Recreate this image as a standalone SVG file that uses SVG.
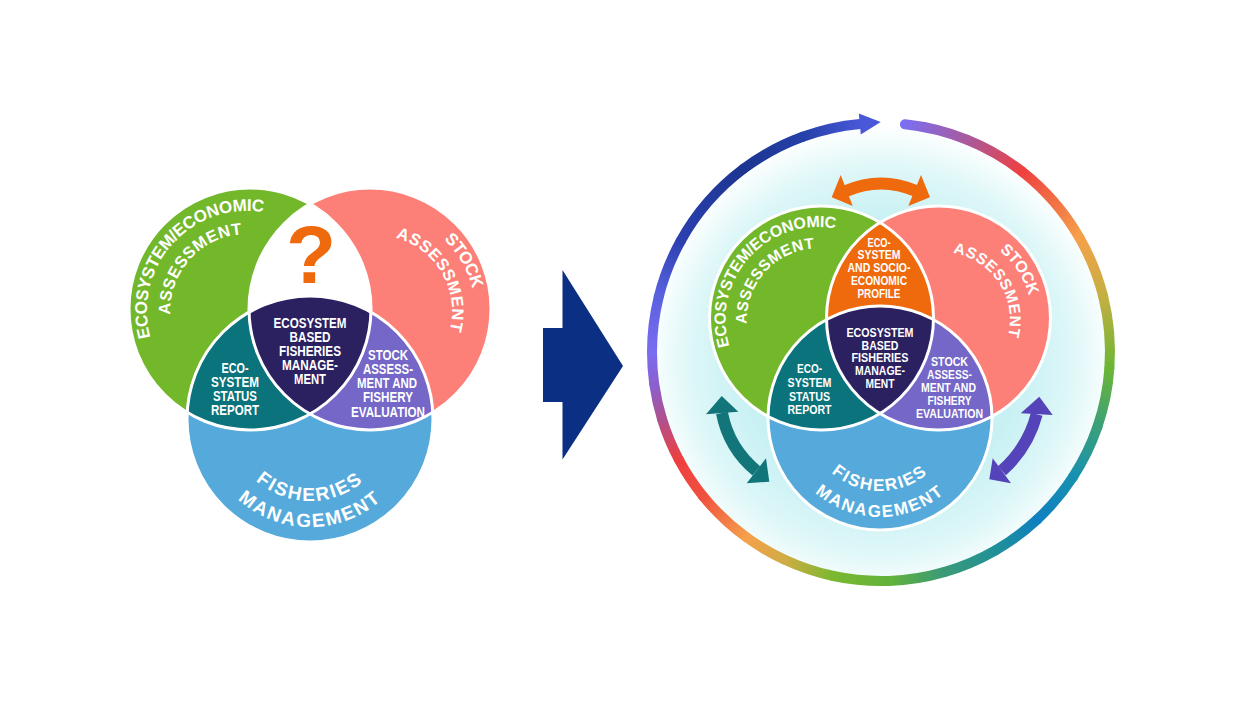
<svg xmlns="http://www.w3.org/2000/svg" width="1250" height="702" viewBox="0 0 1250 702">
<style>
.w{fill:none;stroke:#fff;stroke-width:3}
.t{font-family:'Liberation Sans',Arial,sans-serif;font-weight:700;fill:#fff;text-anchor:middle}
.s1{font-size:14.5px}
.s2{font-size:12.8px}
.c1{font-size:17px;letter-spacing:-0.3px}
.c1b{font-size:16.5px;letter-spacing:0.6px}
.c2{font-size:19px;letter-spacing:2px}
.c3{font-size:16px;letter-spacing:-0.2px}
.c3b{font-size:15.5px;letter-spacing:0.6px}
.c4{font-size:17px;letter-spacing:1.8px}
.seg{fill:none;stroke-width:10;stroke-linecap:round}
.green{fill:#73b72b}.pink{fill:#fd8078}.blue{fill:#55aadb}.teal{fill:#0a737b}.navy{fill:#2b2161}.purple{fill:#7467c7}.orange{fill:#ee6a0c}
</style>
<defs>
<radialGradient id="glow" cx="881" cy="360" r="235" gradientUnits="userSpaceOnUse">
<stop offset="0" stop-color="#bfeef2"/><stop offset="0.6" stop-color="#c9f1f4"/><stop offset="0.82" stop-color="#dff7f8"/><stop offset="0.95" stop-color="#f6fdfd"/><stop offset="1" stop-color="#ffffff"/>
</radialGradient>
<clipPath id="cgL"><circle cx="250" cy="309" r="121"/></clipPath>
<clipPath id="cpL"><circle cx="370" cy="309" r="121"/></clipPath>
<clipPath id="cgR"><circle cx="821.5" cy="318" r="112"/></clipPath>
<clipPath id="cpR"><circle cx="938.5" cy="318" r="112"/></clipPath>
<path id="pG1" d="M173.9 379.2 A100 100 0 0 1 307.2 231.1"/>
<path id="pG2" d="M190.7 363.5 A77 77 0 0 1 293.3 249.5"/>
<path id="pP1" d="M332.7 221.4 A100 100 0 0 1 432.4 393.9"/>
<path id="pP2" d="M342.5 242.2 A77 77 0 0 1 419.2 375.1"/>
<path id="pB1" d="M232.9 447 A82 82 0 0 0 387.1 447"/>
<path id="pB2" d="M208.5 455.9 A108 108 0 0 0 411.5 455.9"/>
<path id="qG1" d="M750.5 383.4 A93 93 0 0 1 874.5 245.7"/>
<path id="qG2" d="M765.9 369.1 A72 72 0 0 1 861.8 262.5"/>
<path id="qP1" d="M899.7 240.5 A90 90 0 0 1 997.4 390.9"/>
<path id="qP2" d="M910.1 260 A68 68 0 0 1 983.9 373.6"/>
<path id="qB1" d="M811.4 443 A73 73 0 0 0 948.6 443"/>
<path id="qB2" d="M787 451.9 A99 99 0 0 0 973 451.9"/>
<linearGradient id="r0" gradientUnits="userSpaceOnUse" x1="904.9" y1="124.3" x2="966.8" y2="139.7"><stop offset="0" stop-color="#7b6ef0"/><stop offset="1" stop-color="#a85a9e"/></linearGradient>
<linearGradient id="r1" gradientUnits="userSpaceOnUse" x1="966.8" y1="139.7" x2="1022" y2="171.5"><stop offset="0" stop-color="#a85a9e"/><stop offset="1" stop-color="#ee4040"/></linearGradient>
<linearGradient id="r2" gradientUnits="userSpaceOnUse" x1="1022" y1="171.5" x2="1079.3" y2="237.5"><stop offset="0" stop-color="#ee4040"/><stop offset="1" stop-color="#f5a04a"/></linearGradient>
<linearGradient id="r3" gradientUnits="userSpaceOnUse" x1="1079.3" y1="237.5" x2="1103.2" y2="296.6"><stop offset="0" stop-color="#f5a04a"/><stop offset="1" stop-color="#c4b042"/></linearGradient>
<linearGradient id="r4" gradientUnits="userSpaceOnUse" x1="1103.2" y1="296.6" x2="1109.4" y2="368"><stop offset="0" stop-color="#c4b042"/><stop offset="1" stop-color="#6cb535"/></linearGradient>
<linearGradient id="r5" gradientUnits="userSpaceOnUse" x1="1109.4" y1="368" x2="1097.5" y2="426.6"><stop offset="0" stop-color="#6cb535"/><stop offset="1" stop-color="#3aa07a"/></linearGradient>
<linearGradient id="r6" gradientUnits="userSpaceOnUse" x1="1097.5" y1="426.6" x2="1073.1" y2="476.7"><stop offset="0" stop-color="#3aa07a"/><stop offset="1" stop-color="#1890b0"/></linearGradient>
<linearGradient id="r7" gradientUnits="userSpaceOnUse" x1="1073.1" y1="476.7" x2="1037.2" y2="519.5"><stop offset="0" stop-color="#1890b0"/><stop offset="1" stop-color="#0f80c0"/></linearGradient>
<linearGradient id="r8" gradientUnits="userSpaceOnUse" x1="1037.2" y1="519.5" x2="995.5" y2="550.3"><stop offset="0" stop-color="#0f80c0"/><stop offset="1" stop-color="#209098"/></linearGradient>
<linearGradient id="r9" gradientUnits="userSpaceOnUse" x1="995.5" y1="550.3" x2="944.1" y2="572.1"><stop offset="0" stop-color="#209098"/><stop offset="1" stop-color="#3a9a78"/></linearGradient>
<linearGradient id="r10" gradientUnits="userSpaceOnUse" x1="944.1" y1="572.1" x2="889" y2="580.9"><stop offset="0" stop-color="#3a9a78"/><stop offset="1" stop-color="#62b23a"/></linearGradient>
<linearGradient id="r11" gradientUnits="userSpaceOnUse" x1="889" y1="580.9" x2="833.4" y2="576"><stop offset="0" stop-color="#62b23a"/><stop offset="1" stop-color="#7ab830"/></linearGradient>
<linearGradient id="r12" gradientUnits="userSpaceOnUse" x1="833.4" y1="576" x2="784.2" y2="559.5"><stop offset="0" stop-color="#7ab830"/><stop offset="1" stop-color="#d0ac45"/></linearGradient>
<linearGradient id="r13" gradientUnits="userSpaceOnUse" x1="784.2" y1="559.5" x2="746.4" y2="537.3"><stop offset="0" stop-color="#d0ac45"/><stop offset="1" stop-color="#f5a04a"/></linearGradient>
<linearGradient id="r14" gradientUnits="userSpaceOnUse" x1="746.4" y1="537.3" x2="703" y2="496.1"><stop offset="0" stop-color="#f5a04a"/><stop offset="1" stop-color="#f05040"/></linearGradient>
<linearGradient id="r15" gradientUnits="userSpaceOnUse" x1="703" y1="496.1" x2="678.8" y2="459.5"><stop offset="0" stop-color="#f05040"/><stop offset="1" stop-color="#ee3f3f"/></linearGradient>
<linearGradient id="r16" gradientUnits="userSpaceOnUse" x1="678.8" y1="459.5" x2="662" y2="419"><stop offset="0" stop-color="#ee3f3f"/><stop offset="1" stop-color="#b0508e"/></linearGradient>
<linearGradient id="r17" gradientUnits="userSpaceOnUse" x1="662" y1="419" x2="654.2" y2="383.9"><stop offset="0" stop-color="#b0508e"/><stop offset="1" stop-color="#8a60d0"/></linearGradient>
<linearGradient id="r18" gradientUnits="userSpaceOnUse" x1="654.2" y1="383.9" x2="652" y2="352"><stop offset="0" stop-color="#8a60d0"/><stop offset="1" stop-color="#7a6cf0"/></linearGradient>
<linearGradient id="r19" gradientUnits="userSpaceOnUse" x1="652" y1="352" x2="658.8" y2="296.6"><stop offset="0" stop-color="#7a6cf0"/><stop offset="1" stop-color="#5a62e0"/></linearGradient>
<linearGradient id="r20" gradientUnits="userSpaceOnUse" x1="658.8" y1="296.6" x2="680.7" y2="241"><stop offset="0" stop-color="#5a62e0"/><stop offset="1" stop-color="#2c40b0"/></linearGradient>
<linearGradient id="r21" gradientUnits="userSpaceOnUse" x1="680.7" y1="241" x2="743.2" y2="169.1"><stop offset="0" stop-color="#2c40b0"/><stop offset="1" stop-color="#1c3590"/></linearGradient>
<linearGradient id="r22" gradientUnits="userSpaceOnUse" x1="743.2" y1="169.1" x2="802.7" y2="136.8"><stop offset="0" stop-color="#1c3590"/><stop offset="1" stop-color="#2540a8"/></linearGradient>
<linearGradient id="r23" gradientUnits="userSpaceOnUse" x1="802.7" y1="136.8" x2="859.8" y2="124"><stop offset="0" stop-color="#2540a8"/><stop offset="1" stop-color="#4858d8"/></linearGradient>
</defs>

<rect width="1250" height="702" fill="#fff"/>
<circle id="glow-bg" cx="881" cy="352" r="232" fill="url(#glow)"/>

<!-- LEFT VENN -->
<g id="left-ecosystem-economic-assessment">
<circle class="green" cx="250" cy="309" r="121"/>
<text class="t c1"><textPath href="#pG1" startOffset="50%">ECOSYSTEM/ECONOMIC</textPath></text>
<text class="t c1b"><textPath href="#pG2" startOffset="50%">ASSESSMENT</textPath></text>
</g>
<g id="left-stock-assessment">
<circle class="pink" cx="370" cy="309" r="121"/>
<text class="t c1"><textPath href="#pP1" startOffset="50%">STOCK</textPath></text>
<text class="t c1b"><textPath href="#pP2" startOffset="50%">ASSESSMENT</textPath></text>
</g>
<g id="left-fisheries-management">
<circle class="blue" cx="310" cy="419" r="123"/>
<text class="t c2"><textPath href="#pB1" startOffset="50%">FISHERIES</textPath></text>
<text class="t c2"><textPath href="#pB2" startOffset="50%">MANAGEMENT</textPath></text>
</g>
<g id="left-unknown">
<g clip-path="url(#cgL)"><circle cx="370" cy="309" r="121" fill="#fff"/></g>
<text x="311" y="283" font-family="'Liberation Sans',Arial,sans-serif" font-weight="700" font-size="82" fill="#ee6a0c" text-anchor="middle">?</text>
</g>
<g id="left-ecosystem-status-report">
<g clip-path="url(#cgL)"><circle class="teal" cx="310" cy="419" r="123"/></g>
<text class="t s1" x="235" y="373" textLength="27" lengthAdjust="spacingAndGlyphs">ECO-</text>
<text class="t s1" x="235" y="387" textLength="48" lengthAdjust="spacingAndGlyphs">SYSTEM</text>
<text class="t s1" x="235" y="401" textLength="44" lengthAdjust="spacingAndGlyphs">STATUS</text>
<text class="t s1" x="235" y="415" textLength="48" lengthAdjust="spacingAndGlyphs">REPORT</text>
</g>
<g id="left-stock-assessment-fishery-evaluation">
<g clip-path="url(#cpL)"><circle class="purple" cx="310" cy="419" r="123"/></g>
<text class="t s1" x="388" y="360" textLength="40" lengthAdjust="spacingAndGlyphs">STOCK</text>
<text class="t s1" x="388" y="374" textLength="50" lengthAdjust="spacingAndGlyphs">ASSESS-</text>
<text class="t s1" x="387" y="388" textLength="60" lengthAdjust="spacingAndGlyphs">MENT AND</text>
<text class="t s1" x="388" y="402" textLength="50" lengthAdjust="spacingAndGlyphs">FISHERY</text>
<text class="t s1" x="388" y="416.5" textLength="74" lengthAdjust="spacingAndGlyphs">EVALUATION</text>
</g>
<g id="left-ebfm">
<g clip-path="url(#cgL)"><g clip-path="url(#cpL)"><circle class="navy" cx="310" cy="419" r="123"/></g></g>
<text class="t s1" x="310" y="328.3" textLength="73" lengthAdjust="spacingAndGlyphs">ECOSYSTEM</text>
<text class="t s1" x="310" y="342.3" textLength="41" lengthAdjust="spacingAndGlyphs">BASED</text>
<text class="t s1" x="310" y="356.3" textLength="62" lengthAdjust="spacingAndGlyphs">FISHERIES</text>
<text class="t s1" x="310" y="370.3" textLength="56" lengthAdjust="spacingAndGlyphs">MANAGE-</text>
<text class="t s1" x="310" y="384.3" textLength="32" lengthAdjust="spacingAndGlyphs">MENT</text>
</g>
<g id="left-outlines">
<circle class="w" cx="250" cy="309" r="121"/>
<circle class="w" cx="370" cy="309" r="121"/>
<circle class="w" cx="310" cy="419" r="123"/>
</g>

<!-- RIGHT VENN -->
<g id="right-ecosystem-economic-assessment">
<circle class="green" cx="821.5" cy="318" r="112"/>
<text class="t c3"><textPath href="#qG1" startOffset="50%">ECOSYSTEM/ECONOMIC</textPath></text>
<text class="t c3b"><textPath href="#qG2" startOffset="50%">ASSESSMENT</textPath></text>
</g>
<g id="right-stock-assessment">
<circle class="pink" cx="938.5" cy="318" r="112"/>
<text class="t c3"><textPath href="#qP1" startOffset="50%">STOCK</textPath></text>
<text class="t c3b"><textPath href="#qP2" startOffset="50%">ASSESSMENT</textPath></text>
</g>
<g id="right-fisheries-management">
<circle class="blue" cx="880" cy="418" r="112"/>
<text class="t c4"><textPath href="#qB1" startOffset="50%">FISHERIES</textPath></text>
<text class="t c4"><textPath href="#qB2" startOffset="50%">MANAGEMENT</textPath></text>
</g>
<g id="right-socioeconomic-profile">
<g clip-path="url(#cgR)"><circle class="orange" cx="938.5" cy="318" r="112"/></g>
<text class="t s2" x="879" y="246.7" textLength="23" lengthAdjust="spacingAndGlyphs">ECO-</text>
<text class="t s2" x="879" y="259.3" textLength="43" lengthAdjust="spacingAndGlyphs">SYSTEM</text>
<text class="t s2" x="879" y="272.3" textLength="63" lengthAdjust="spacingAndGlyphs">AND SOCIO-</text>
<text class="t s2" x="879" y="285" textLength="56" lengthAdjust="spacingAndGlyphs">ECONOMIC</text>
<text class="t s2" x="879" y="297.7" textLength="43" lengthAdjust="spacingAndGlyphs">PROFILE</text>
</g>
<g id="right-ecosystem-status-report">
<g clip-path="url(#cgR)"><circle class="teal" cx="880" cy="418" r="112"/></g>
<text class="t s2" x="809.5" y="373.3" textLength="25" lengthAdjust="spacingAndGlyphs">ECO-</text>
<text class="t s2" x="809.5" y="387.3" textLength="44" lengthAdjust="spacingAndGlyphs">SYSTEM</text>
<text class="t s2" x="809.5" y="400.7" textLength="41" lengthAdjust="spacingAndGlyphs">STATUS</text>
<text class="t s2" x="809.5" y="414" textLength="44" lengthAdjust="spacingAndGlyphs">REPORT</text>
</g>
<g id="right-stock-assessment-fishery-evaluation">
<g clip-path="url(#cpR)"><circle class="purple" cx="880" cy="418" r="112"/></g>
<text class="t s2" x="949.5" y="365.7" textLength="37" lengthAdjust="spacingAndGlyphs">STOCK</text>
<text class="t s2" x="949.5" y="378.7" textLength="45" lengthAdjust="spacingAndGlyphs">ASSESS-</text>
<text class="t s2" x="948.5" y="391.7" textLength="55" lengthAdjust="spacingAndGlyphs">MENT AND</text>
<text class="t s2" x="949.5" y="405" textLength="44" lengthAdjust="spacingAndGlyphs">FISHERY</text>
<text class="t s2" x="949.5" y="418" textLength="67" lengthAdjust="spacingAndGlyphs">EVALUATION</text>
</g>
<g id="right-ebfm">
<g clip-path="url(#cgR)"><g clip-path="url(#cpR)"><circle class="navy" cx="880" cy="418" r="112"/></g></g>
<text class="t s2" x="880" y="336.7" textLength="67" lengthAdjust="spacingAndGlyphs">ECOSYSTEM</text>
<text class="t s2" x="880" y="349.5" textLength="37" lengthAdjust="spacingAndGlyphs">BASED</text>
<text class="t s2" x="880" y="362.3" textLength="57" lengthAdjust="spacingAndGlyphs">FISHERIES</text>
<text class="t s2" x="880" y="375.2" textLength="50" lengthAdjust="spacingAndGlyphs">MANAGE-</text>
<text class="t s2" x="880" y="388.3" textLength="29" lengthAdjust="spacingAndGlyphs">MENT</text>
</g>
<g id="right-outlines">
<circle class="w" cx="821.5" cy="318" r="112"/>
<circle class="w" cx="938.5" cy="318" r="112"/>
<circle class="w" cx="880" cy="418" r="112"/>
</g>

<!-- CONNECTORS -->
<g id="connectors">
<polygon id="transition-arrow" points="543,328 562.5,328 562.5,270 623,366 562.5,459.5 562.5,402 543,402" fill="#0b2f82"/>
<g id="cycle-ring">
<path class="seg" stroke="url(#r0)" d="M904.9 124.3 A229 229 0 0 1 966.8 139.7"/>
<path class="seg" stroke="url(#r1)" d="M966.8 139.7 A229 229 0 0 1 1022 171.5"/>
<path class="seg" stroke="url(#r2)" d="M1022 171.5 A229 229 0 0 1 1079.3 237.5"/>
<path class="seg" stroke="url(#r3)" d="M1079.3 237.5 A229 229 0 0 1 1103.2 296.6"/>
<path class="seg" stroke="url(#r4)" d="M1103.2 296.6 A229 229 0 0 1 1109.4 368"/>
<path class="seg" stroke="url(#r5)" d="M1109.4 368 A229 229 0 0 1 1097.5 426.6"/>
<path class="seg" stroke="url(#r6)" d="M1097.5 426.6 A229 229 0 0 1 1073.1 476.7"/>
<path class="seg" stroke="url(#r7)" d="M1073.1 476.7 A229 229 0 0 1 1037.2 519.5"/>
<path class="seg" stroke="url(#r8)" d="M1037.2 519.5 A229 229 0 0 1 995.5 550.3"/>
<path class="seg" stroke="url(#r9)" d="M995.5 550.3 A229 229 0 0 1 944.1 572.1"/>
<path class="seg" stroke="url(#r10)" d="M944.1 572.1 A229 229 0 0 1 889 580.9"/>
<path class="seg" stroke="url(#r11)" d="M889 580.9 A229 229 0 0 1 833.4 576"/>
<path class="seg" stroke="url(#r12)" d="M833.4 576 A229 229 0 0 1 784.2 559.5"/>
<path class="seg" stroke="url(#r13)" d="M784.2 559.5 A229 229 0 0 1 746.4 537.3"/>
<path class="seg" stroke="url(#r14)" d="M746.4 537.3 A229 229 0 0 1 703 496.1"/>
<path class="seg" stroke="url(#r15)" d="M703 496.1 A229 229 0 0 1 678.8 459.5"/>
<path class="seg" stroke="url(#r16)" d="M678.8 459.5 A229 229 0 0 1 662 419"/>
<path class="seg" stroke="url(#r17)" d="M662 419 A229 229 0 0 1 654.2 383.9"/>
<path class="seg" stroke="url(#r18)" d="M654.2 383.9 A229 229 0 0 1 652 352"/>
<path class="seg" stroke="url(#r19)" d="M652 352 A229 229 0 0 1 658.8 296.6"/>
<path class="seg" stroke="url(#r20)" d="M658.8 296.6 A229 229 0 0 1 680.7 241"/>
<path class="seg" stroke="url(#r21)" d="M680.7 241 A229 229 0 0 1 743.2 169.1"/>
<path class="seg" stroke="url(#r22)" d="M743.2 169.1 A229 229 0 0 1 802.7 136.8"/>
<path class="seg" stroke="url(#r23)" d="M802.7 136.8 A229 229 0 0 1 859.8 124"/>
<polygon points="858.8,113.5 880.7,122.1 860.8,134.5" fill="#4858d8"/>
</g>
<g id="arrow-top" fill="#ee6a0c">
<path d="M846 191 Q881 176 916 191" fill="none" stroke="#ee6a0c" stroke-width="12"/>
<polygon points="831.7,197.3 840.7,175 852.7,206"/>
<polygon points="930,197.3 921,175 908.3,206"/>
</g>
<g id="arrow-left" fill="#127579">
<path d="M722 413 Q728.7 448 756.3 470.8" fill="none" stroke="#127579" stroke-width="12"/>
<polygon points="721.7,396 706,414.3 738.3,411.7"/>
<polygon points="769.3,481.7 746.7,483.3 766,458.3"/>
</g>
<g id="arrow-right" fill="#5443b9">
<path d="M1036.7 414.2 Q1027.8 447.7 1001.9 470.8" fill="none" stroke="#5443b9" stroke-width="12"/>
<polygon points="1039.3,396.7 1052.7,415 1020.7,413.3"/>
<polygon points="989.3,479.3 1011,483.3 992.7,458.3"/>
</g>
</g>
</svg>
